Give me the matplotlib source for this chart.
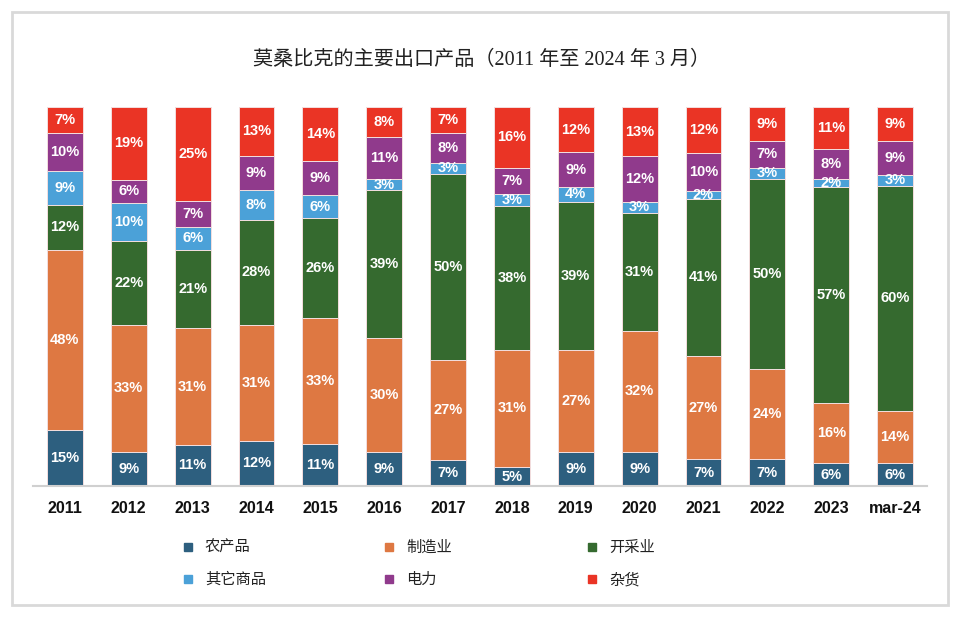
import matplotlib
matplotlib.use("Agg")
import matplotlib.pyplot as plt
from matplotlib.lines import Line2D
from matplotlib.patches import Rectangle
import numpy as np

years = ["2011", "2012", "2013", "2014", "2015", "2016", "2017", "2018",
         "2019", "2020", "2021", "2022", "2023", "mar-24"]
series_names = ["农产品", "制造业", "开采业", "其它商品", "电力", "杂货"]
agri = [15, 9, 11, 12, 11, 9, 7, 5, 9, 9, 7, 7, 6, 6]
manuf = [48, 33, 31, 31, 33, 30, 27, 31, 27, 32, 27, 24, 16, 14]
mining = [12, 22, 21, 28, 26, 39, 50, 38, 39, 31, 41, 50, 57, 60]
other = [9, 10, 6, 8, 6, 3, 3, 3, 4, 3, 2, 3, 2, 3]
power = [10, 6, 7, 9, 9, 11, 8, 7, 9, 12, 10, 7, 8, 9]
misc = [7, 19, 25, 13, 14, 8, 7, 16, 12, 13, 12, 9, 11, 9]
colors = ["#2D5F7F", "#DE7842", "#356A2F", "#4BA1D8", "#903A8C", "#EA3425"]
title = "莫桑比克的主要出口产品（2011 年至 2024 年 3 月）"

data = np.array([agri, manuf, mining, other, power, misc], dtype=float)
frac = data / data.sum(axis=0)

W, H = 960, 617
fig = plt.figure(figsize=(W / 100, H / 100), dpi=100)
ax = fig.add_axes([33 / W, 1 - 486 / H, 894 / W, 379 / H])

x = np.arange(len(years))
bottom = np.zeros(len(years))
for i, name in enumerate(series_names):
    ax.bar(x, frac[i], width=0.56, bottom=bottom, color=colors[i],
           edgecolor="#f3dede", linewidth=0.7, label=name, zorder=2)
    for j in range(len(years)):
        ax.text(x[j], bottom[j] + frac[i][j] / 2, f"{int(data[i][j])}%",
                ha="center", va="center", color="white", fontsize=10.5,
                fontweight="bold", family=["Liberation Sans", "DejaVu Sans"],
                zorder=3)
    bottom += frac[i]

ax.set_xlim(-0.5, len(years) - 0.5)
ax.set_ylim(0, 1)
ax.set_xticks(x)
ax.set_xticklabels(years, fontsize=11.5, fontweight="bold",
                   family=["Liberation Sans", "DejaVu Sans"], color="#111111")
ax.tick_params(axis="x", length=0, pad=10.5)
ax.set_yticks([])
for s in ["top", "right", "left"]:
    ax.spines[s].set_visible(False)
ax.spines["bottom"].set_color("#d0d0d0")
ax.spines["bottom"].set_linewidth(1.5)

fig.text(482 / W, 1 - 60 / H, title, ha="center", va="center", fontsize=14.5,
         color="#222222", family=["Liberation Serif", "Noto Sans CJK SC"])

# legend: three columns, two rows each
col_x = [182, 383, 586]
for c in range(3):
    idx = [c, c + 3]
    handles = [Line2D([], [], linestyle="none", marker="s", markersize=6,
                      markerfacecolor=colors[k], markeredgecolor=colors[k])
               for k in idx]
    labels = [series_names[k] for k in idx]
    leg = fig.legend(handles, labels, loc="center left",
                     bbox_to_anchor=(col_x[c] / W, 1 - 563.5 / H),
                     frameon=False, borderpad=0, borderaxespad=0,
                     handlelength=0.8, handletextpad=0.7, labelspacing=1.0,
                     prop={"family": ["Noto Sans CJK SC", "DejaVu Sans"], "size": 11})
    for t in leg.get_texts():
        t.set_color("#222222")

fig.patches.append(Rectangle((12 / W, 1 - 605 / H), 936 / W, 593 / H,
                             transform=fig.transFigure, fill=False,
                             edgecolor="#d9d9d9", linewidth=2))

fig.savefig("out.png", dpi=100)
